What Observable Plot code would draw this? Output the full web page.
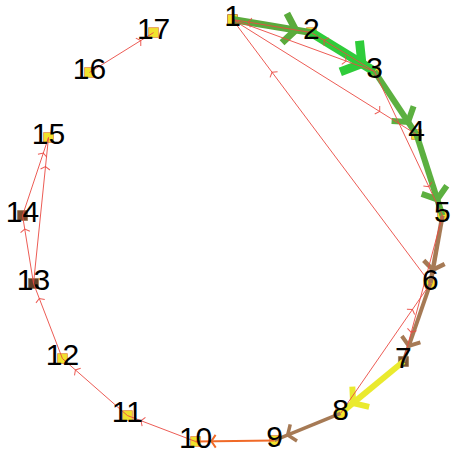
<!DOCTYPE html>
<html><head><meta charset="utf-8">
<script src="https://cdn.jsdelivr.net/npm/d3@7"></script>
<script src="https://cdn.jsdelivr.net/npm/@observablehq/plot@0.6"></script>
<style>html,body{margin:0;padding:0;background:#fff;}</style>
</head><body><div id="chart"></div>
<script>
// Node layout (circle layout coordinates)
const nodeIds = ["1","2","3","4","5","6","7","8","9","10","11","12","13","14","15","16","17"];
const nodeX = [0.000, 0.374, 0.673, 0.872, 0.995, 0.938, 0.810, 0.512, 0.199, -0.175, -0.498, -0.806, -0.943, -0.995, -0.872, -0.678, -0.374];
const nodeY = [1.000, 0.938, 0.754, 0.455, 0.071, -0.251, -0.621, -0.867, -0.995, -1.000, -0.877, -0.607, -0.251, 0.071, 0.441, 0.749, 0.938];
const nodeFill = ["#f0e22c","#f0e22c","#f0e22c","#f0e22c","#f0e22c","#f0e22c","#7d5634","#f0e22c","#f0e22c","#f0e22c","#f0e22c","#f0e22c","#5e3e28","#7b4c2e","#f0e22c","#f0e22c","#f0e22c"];
const nodeStroke = ["#c98a4a","#e8a060","#e8a060","#e8a060","#e8a060","#e8a060","#a08060","#e8a060","#e8a060","#e8a060","#e8a060","#e8a060","#a08060","#a08060","#e8a060","#e8a060","#e8a060"];

// Directed edges
const edgeFrom  = ["1","2","3","4","5","6","7","8","9","1","1","2","3","3","6","5","8","10","11","12","13","14","13","16"];
const edgeTo    = ["2","3","4","5","6","7","8","9","10","3","4","1","2","5","1","7","6","11","12","13","14","15","15","17"];
const edgeColor = ["#5aab3c","#2fcc3a","#5cb040","#5cb040","#a67a55","#a67a55","#eaea2e","#a67a55","#f06a28",
                   "#ea4a42","#ea4a42","#ea4a42","#ea4a42","#ea4a42","#ea4a42","#ea4a42","#ea4a42","#ea4a42","#ea4a42","#ea4a42","#ea4a42","#ea4a42","#ea4a42","#ea4a42"];
const edgeWidth = [7, 9, 6, 6, 4.5, 4, 6, 3.5, 2, 1,1,1,1,1,1,1,1,1,1,1,1,1,1,1];

const nodes = nodeIds.map((id, i) => ({id, x: nodeX[i], y: nodeY[i], fill: nodeFill[i], stroke: nodeStroke[i]}));
const byId = new Map(nodes.map(n => [n.id, n]));
const T = 0.8;
const edges = edgeFrom.map((f, i) => {
  const a = byId.get(f), b = byId.get(edgeTo[i]);
  return {
    x1: a.x, y1: a.y, x2: b.x, y2: b.y,
    mx: a.x + T * (b.x - a.x), my: a.y + T * (b.y - a.y),
    rot: Math.atan2(b.x - a.x, b.y - a.y) * 180 / Math.PI,
    color: edgeColor[i], width: edgeWidth[i]
  };
});

// chevron ">" drawn at the arrow point; l = how far the arms reach back, r = how far they spread out
const chevron = {
  draw(context, l, r) {
    context.moveTo(-r, 0);
    context.lineTo(0, -l);
    context.lineTo(r, 0);
  }
};

const edgeMarks = edges.flatMap(e => [
  Plot.link([e], {x1: "x1", y1: "y1", x2: "x2", y2: "y2", stroke: e.color, strokeWidth: e.width, strokeLinecap: "butt", strokeOpacity: e.width > 1 ? 1 : 0.9}),
  Plot.vector([e], {x: "mx", y: "my", rotate: "rot", length: 1.5 + 1.4 * e.width, r: 3 + 1.7 * e.width, anchor: "end", shape: chevron,
    stroke: e.color, strokeWidth: e.width, strokeLinecap: "butt", strokeLinejoin: "miter", strokeOpacity: e.width > 1 ? 1 : 0.9})
]);

const chart = Plot.plot({
  width: 452, height: 456, margin: 0,
  x: {domain: [-232/211, 220/211], axis: null},
  y: {domain: [-226/211, 230/211], axis: null},
  marks: [
    Plot.dot(nodes, {x: "x", y: "y", symbol: "square", r: 5.6, fill: "fill", stroke: "stroke", strokeWidth: 1}),
    ...edgeMarks,
    Plot.text(nodes, {x: "x", y: "y", text: "id", dy: -3, fontSize: 30, fontFamily: "Liberation Sans, Arial, sans-serif", fill: "#000"})
  ]
});
document.getElementById("chart").appendChild(chart);
</script>
</body></html>
